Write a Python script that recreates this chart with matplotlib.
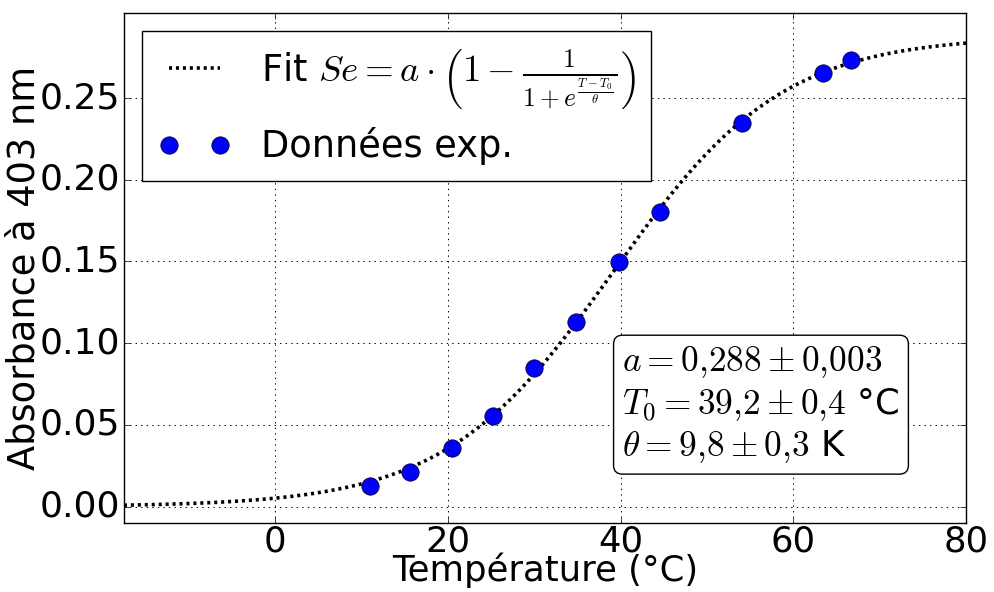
import numpy as np
import matplotlib
matplotlib.use("Agg")
import matplotlib.pyplot as plt

plt.style.use("classic")
plt.rcParams["mathtext.fontset"] = "cm"
plt.rcParams["font.family"] = ["DejaVu Sans"]

# Experimental data
temperature = [11.0, 15.6, 20.5, 25.2, 30.0, 34.9, 39.8, 44.6, 54.1, 63.5, 66.7]
absorbance = [0.0128, 0.0214, 0.036, 0.0556, 0.085, 0.113, 0.1497, 0.1805, 0.2345, 0.2655, 0.2735]

# Fit parameters (shown in the text box)
a_fit = 0.288
T0_fit = 39.2
theta_fit = 9.8

x_range = [-17.5, 80]
y_range = [-0.01, 0.302]
xticks = [0, 20, 40, 60, 80]
yticks = [0.00, 0.05, 0.10, 0.15, 0.20, 0.25]

fig = plt.figure(figsize=(9.94, 5.92), dpi=100, facecolor="white")
ax = fig.add_axes([0.1247, 0.1166, 0.8471, 0.8614])
ax.set_facecolor("white")

T = np.linspace(x_range[0], x_range[1], 400)
fit = a_fit * (1 - 1 / (1 + np.exp((T - T0_fit) / theta_fit)))
ax.plot(T, fit, color="black", linewidth=2.6, dashes=[2.2, 2.8],
        label=r"Fit $Se = a \cdot \left(1 - \frac{1}{1 + e^{\frac{T - T_0}{\theta}}}\right)$")
ax.plot(temperature, absorbance, "o", color="blue", markeredgecolor="black",
        markersize=12.5, label="Données exp.")

ax.set_xlim(x_range)
ax.set_ylim(y_range)
ax.set_xticks(xticks)
ax.set_yticks(yticks)
ax.set_xticklabels([str(v) for v in xticks], fontsize=25.5)
ax.set_yticklabels(["%.2f" % v for v in yticks], fontsize=26)
ax.grid(True, color="black", linestyle=":", linewidth=0.7)
ax.tick_params(direction="in", length=4, top=True, right=True)
ax.tick_params(axis="y", pad=3)
ax.tick_params(axis="x", pad=1)

ax.set_xlabel("Température (°C)", fontsize=25.5, labelpad=-4)
ax.set_ylabel("Absorbance à 403 nm", fontsize=26.5, labelpad=-2)

leg = ax.legend(loc="upper left", numpoints=2, fontsize=26.5, fancybox=False,
                handlelength=2.0, borderaxespad=0.5, borderpad=0.42,
                labelspacing=0.45, handletextpad=0.8)
leg.get_frame().set_edgecolor("black")

ax.text(0.592, 0.232,
        "$a = 0{,}288 \\pm 0{,}003$\n$T_0 = 39{,}2 \\pm 0{,}4$ °C\n$\\theta = 9{,}8 \\pm 0{,}3$ K",
        transform=ax.transAxes, fontsize=25.5, va="center", ha="left",
        bbox=dict(boxstyle="round,pad=0.25", facecolor="white", edgecolor="black"),
        linespacing=1.2)

fig.savefig("out.png", dpi=100, facecolor="white")
